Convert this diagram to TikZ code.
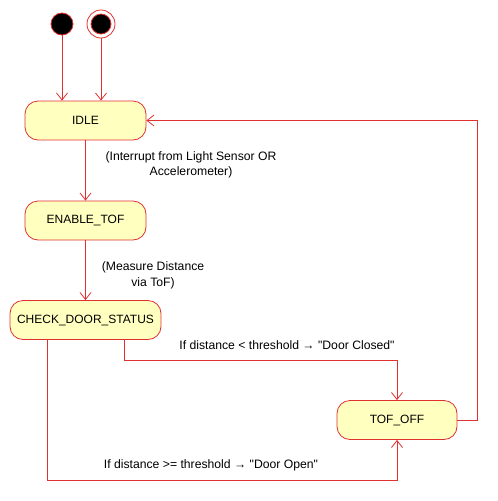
\documentclass[tikz,border=0pt]{standalone}
\usepackage{fontspec}
\setmainfont{Liberation Sans}
\usetikzlibrary{arrows.meta}

\definecolor{statered}{HTML}{E03030}
\definecolor{stateyellow}{HTML}{FFFFC0}

\begin{document}
\begin{tikzpicture}[
  x=1pt, y=-1pt, line width=0.8pt,
  state/.style={draw=statered, fill=stateyellow, rounded corners=13pt,
    minimum height=39pt, inner sep=0pt, font=\fontsize{12}{14}\selectfont},
  trans/.style={draw=statered, -{Straight Barb[length=7pt, width=11pt]}},
  lbl/.style={align=center, inner sep=0pt, font=\fontsize{12.2}{15.5}\selectfont},
]
  \useasboundingbox (0,0) rectangle (498,501);

  % start / end markers
  \node[circle, draw=statered, fill=black, minimum size=22pt, inner sep=0pt] (init) at (62,24) {};
  \node[circle, draw=statered, fill=white, minimum size=28pt, inner sep=0pt] (fin) at (101,24) {};
  \node[circle, draw=statered, fill=black, minimum size=20pt, inner sep=0pt] (finin) at (101,24) {};

  % states
  \node[state, minimum width=121pt] (idle)   at (85.5,120.5) {IDLE};
  \node[state, minimum width=121pt] (enable) at (85.5,220.5) {ENABLE\_TOF};
  \node[state, minimum width=151pt] (check)  at (85.5,320)   {CHECK\_DOOR\_STATUS};
  \node[state, minimum width=120pt] (tofoff) at (397,420)    {TOF\_OFF};

  % transitions
  \draw[trans] (init) -- (init |- idle.north);
  \draw[trans] (fin) -- (fin |- idle.north);
  \draw[trans] (idle) -- (enable);
  \draw[trans] (enable) -- (check);
  \draw[trans] ([xshift=38.5pt]check.south) -- ++(0,20) -| (tofoff.north);
  \draw[trans] ([xshift=-38.5pt]check.south) -- ++(0,140) -| (tofoff.south);
  \draw[trans] (tofoff.east) -- ++(20,0) |- (idle.east);

  % guards
  \node[lbl] (lblint)  at (191,165) {(Interrupt from Light Sensor OR\\Accelerometer)};
  \node[lbl] (lbldist) at (153,275.5) {(Measure Distance\\via ToF)};
  \node[lbl] (lblclose) at (287,345) {If distance < threshold → \textquotedbl Door Closed\textquotedbl};
  \node[lbl] (lblopen)  at (211,465) {If distance >= threshold → \textquotedbl Door Open\textquotedbl};
\end{tikzpicture}
\end{document}
